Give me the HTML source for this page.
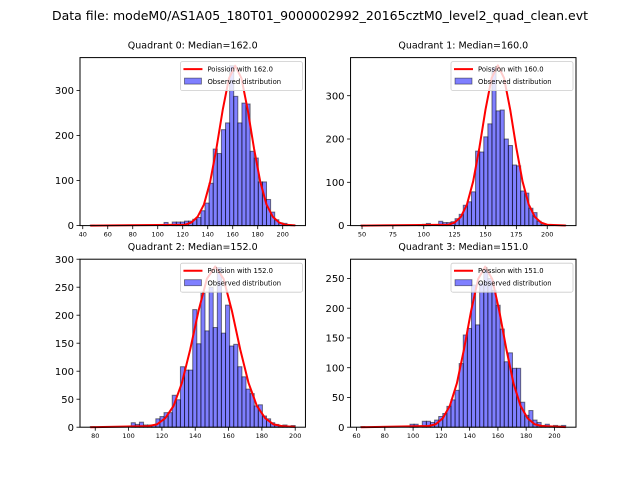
<!DOCTYPE html>
<html><head><meta charset="utf-8"><style>
html,body{margin:0;padding:0;background:#fff;}
svg{display:block;font-family:"DejaVu Sans","Liberation Sans",sans-serif;}
</style></head><body>
<svg id="fig" width="640" height="480" viewBox="0 0 640 480" xmlns="http://www.w3.org/2000/svg">
<rect x="0" y="0" width="640" height="480" fill="#fff"/>
<text x="320" y="20" text-anchor="middle" font-size="12.5" textLength="536" lengthAdjust="spacingAndGlyphs">Data file: modeM0/AS1A05_180T01_9000002992_20165cztM0_level2_quad_clean.evt</text>
</svg>
<script>
const medians = [162.0, 160.0, 152.0, 151.0];
const binMin = [46, 49, 77, 63];
const binMax = [210, 215, 200, 208];
const counts0 = [1,0,0,0,0,0,0,0,0,0,0,0,0,0,0,0,0,0,7,0,8,8,8,10,10,14,18,33,50,94,170,160,213,228,355,287,228,272,270,165,150,97,97,58,30,13,6,5,2,1];
const counts1 = [1,0,0,0,0,0,0,0,0,0,0,0,0,0,2,3,5,0,0,10,7,7,9,16,26,47,55,78,172,170,205,235,365,265,267,200,185,140,138,80,75,40,30,10,3,2,1,0,0,1];
const counts2 = [1,0,0,0,0,0,0,0,0,0,8,5,9,4,4,4,15,19,26,26,57,49,108,102,102,210,149,239,172,250,178,285,168,218,145,148,108,90,68,60,38,40,20,15,8,5,3,4,1,3];
const counts3 = [1,0,0,0,0,0,0,0,0,0,0,0,5,5,0,10,10,8,12,18,23,35,46,62,107,155,166,239,172,242,265,250,230,205,165,110,125,99,99,42,20,28,12,8,3,5,2,3,2,3];
const curveX0 = [46,122,127,132,137,142,147,152,157,162,167,172,177,182,187,192,197,202,210];
const curveY0 = [0,2,7,20,47,98,172,257,327,355,327,257,172,98,47,20,7,2,0.5];
const curveX1 = [49,120,125,130,135,140,145,150,155,160,165,170,175,180,185,190,195,200,215];
const curveY1 = [0,2,7,20,49,102,179,268,341,370,341,268,179,102,49,20,7,2,0.3];
const curveX2 = [77,112,117,122,127,132,137,142,147,152,157,162,167,172,177,182,187,192,200];
const curveY2 = [0,2,5,16,38,79,139,208,265,287,265,208,139,79,38,16,5,2,0.5];
const curveX3 = [63,111,116,121,126,131,136,141,146,151,156,161,166,171,176,181,186,191,208];
const curveY3 = [0,2,5,15,36,74,131,195,249,270,249,195,131,74,36,15,5,2,0.2];
const xTicks0 = [40,60,80,100,120,140,160,180,200];
const xTicks1 = [50,75,100,125,150,175,200];
const xTicks2 = [80,100,120,140,160,180,200];
const xTicks3 = [60,80,100,120,140,160,180,200];
const yTicks0 = [0,100,200,300];
const yTicks1 = [0,100,200,300];
const yTicks2 = [0,50,100,150,200,250,300];
const yTicks3 = [0,50,100,150,200,250];

const allCounts=[counts0,counts1,counts2,counts3];
const allCX=[curveX0,curveX1,curveX2,curveX3];
const allCY=[curveY0,curveY1,curveY2,curveY3];
const allXT=[xTicks0,xTicks1,xTicks2,xTicks3];
const allYT=[yTicks0,yTicks1,yTicks2,yTicks3];
const boxes=[[80,57.6,305.45,225.6],[350.55,57.6,576,225.6],[80,259.2,305.45,427.2],[350.55,259.2,576,427.2]];
const yMaxes=[373,388,300,282.4];

const NS="http://www.w3.org/2000/svg";
const svg=document.getElementById('fig');
function mk(tag,attrs,parent){const e=document.createElementNS(NS,tag);for(const k in attrs)e.setAttribute(k,attrs[k]);(parent||svg).appendChild(e);return e;}

for(let q=0;q<4;q++){
  const [X0,Y0,X1,Y1]=boxes[q];
  const c=allCounts[q];
  const lo=binMin[q], hi=binMax[q];
  const pad=(hi-lo)*0.05;
  const xmin=lo-pad, xmax=hi+pad, ymax=yMaxes[q];
  const sx=v=>X0+(v-xmin)/(xmax-xmin)*(X1-X0);
  const sy=v=>Y1-v/ymax*(Y1-Y0);
  const g=mk('g',{});
  
  
  const w=(hi-lo)/c.length;
  for(let k=0;k<c.length;k++){
    if(c[k]<=0)continue;
    const a=sx(lo+k*w), b=sx(lo+(k+1)*w);
    const r=mk('rect',{x:a,y:sy(c[k]),width:b-a,height:sy(0)-sy(c[k]),fill:'rgba(0,0,255,0.5)',stroke:'rgba(0,0,0,0.5)','stroke-width':1},g);
    
    
  }
  const cx=allCX[q], cy=allCY[q];
  let d='';
  for(let i=0;i<cx.length;i++) d+=(i?'L':'M')+sx(cx[i]).toFixed(2)+' '+sy(cy[i]).toFixed(2);
  const ln=mk('path',{d:d,fill:'none',stroke:'#ff0000','stroke-width':2,'stroke-linejoin':'round'},g);
  
  
  const fr=mk('rect',{x:X0,y:Y0,width:X1-X0,height:Y1-Y0,fill:'none',stroke:'#000','stroke-width':1},g);
  
  
  for(const t of allXT[q]){
    const x=sx(t);
    const tk=mk('line',{x1:x,y1:Y1,x2:x,y2:Y1+3.5,stroke:'#000','stroke-width':0.8},g);
    
    
    const tl=mk('text',{x:x,y:Y1+11,'text-anchor':'middle','font-size':6.5},g);
    tl.textContent=String(t);
    
    
  }
  for(const t of allYT[q]){
    const y=sy(t);
    const tk=mk('line',{x1:X0-3.5,y1:y,x2:X0,y2:y,stroke:'#000','stroke-width':0.8},g);
    
    
    const tl=mk('text',{x:X0-6,y:y+3.6,'text-anchor':'end','font-size':10},g);
    tl.textContent=String(t);
    
    
  }
  const tt=mk('text',{x:(X0+X1)/2,y:Y0-9,'text-anchor':'middle','font-size':9.5},g);
  tt.textContent='Quadrant '+q+': Median='+medians[q].toFixed(1);
  
  
  const lg=mk('g',{},g);
  
  
  const LX=X1-125, LY=Y0+4;
  mk('rect',{x:LX,y:LY,width:122,height:29,rx:2,fill:'rgba(255,255,255,0.8)',stroke:'#ccc','stroke-width':0.8},lg);
  const ll=mk('line',{x1:LX+3,y1:LY+7.5,x2:LX+22,y2:LY+7.5,stroke:'#ff0000','stroke-width':2},lg);
  
  
  const lt=mk('text',{x:LX+27,y:LY+10,'font-size':6.8},lg);
  lt.textContent='Poission with '+medians[q].toFixed(1);
  
  
  const lp=mk('rect',{x:LX+4,y:LY+16.5,width:17,height:6,fill:'rgba(0,0,255,0.5)',stroke:'rgba(0,0,0,0.5)','stroke-width':0.8},lg);
  
  
  const lt2=mk('text',{x:LX+27,y:LY+22.5,'font-size':6.8},lg);
  lt2.textContent='Observed distribution';
  
  
}
</script>
</body></html>
